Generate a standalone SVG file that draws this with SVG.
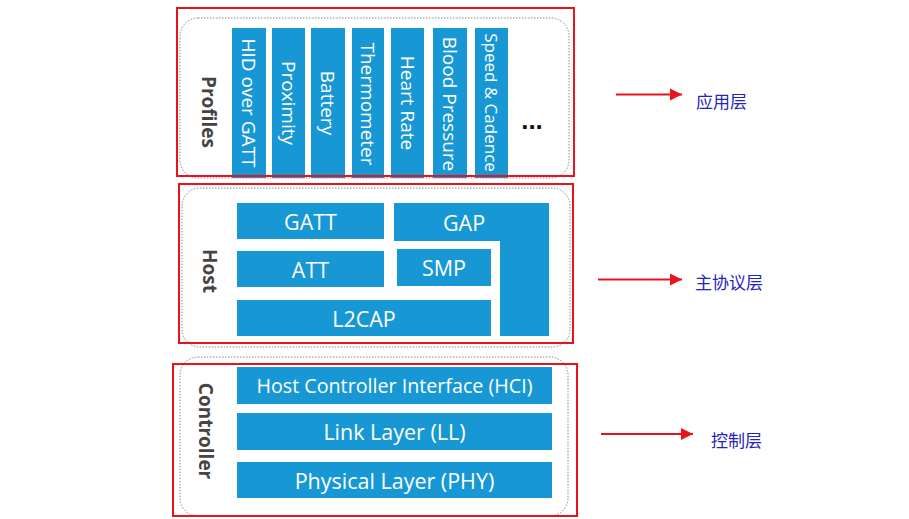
<svg xmlns="http://www.w3.org/2000/svg" width="909" height="519" viewBox="0 0 909 519">
<defs>
<style>
.blk{fill:#1798d5}
.red{fill:none;stroke:#e8141c;stroke-width:2}
.dot{fill:none;stroke:#888;stroke-width:1;stroke-dasharray:1.5 1.5}
.wt{fill:#fff;font-family:"Open Sans","Noto Sans",sans-serif;font-size:21.5px;text-anchor:middle;dominant-baseline:central}
.vt{fill:#fff;font-family:"Open Sans","Noto Sans",sans-serif;font-size:19px;text-anchor:middle;dominant-baseline:central}
.lbl{fill:#444;font-family:"Open Sans","Noto Sans",sans-serif;font-size:19px;font-weight:bold;text-anchor:middle;dominant-baseline:central}
.cn{fill:#2424b8;font-family:"Noto Sans CJK SC",sans-serif;font-size:17px;dominant-baseline:central}
.arr{stroke:#e8141c;stroke-width:2;fill:none}
</style>
<marker id="ah" viewBox="0 0 10 10" refX="10" refY="5" markerWidth="12" markerHeight="14" markerUnits="userSpaceOnUse" orient="auto">
<path d="M0,0 L10,5 L0,10 Z" fill="#e8141c"/>
</marker>
</defs>
<rect width="909" height="519" fill="#fff"/>

<g id="profiles">
<rect class="dot" x="180" y="18" width="389" height="160" rx="18"/>
<text class="lbl" transform="translate(209,112) rotate(90)">Profiles</text>
<g id="p-hid"><rect class="blk" x="232" y="28" width="34" height="150"/><text class="vt" transform="translate(249,103) rotate(90)">HID over GATT</text></g>
<g id="p-prox"><rect class="blk" x="272" y="28" width="33" height="150"/><text class="vt" transform="translate(288.5,103) rotate(90)">Proximity</text></g>
<g id="p-bat"><rect class="blk" x="311" y="28" width="34" height="150"/><text class="vt" transform="translate(328,103) rotate(90)">Battery</text></g>
<g id="p-therm"><rect class="blk" x="352" y="28" width="32" height="150"/><text class="vt" transform="translate(368,104) rotate(90)">Thermometer</text></g>
<g id="p-hr"><rect class="blk" x="391" y="28" width="33" height="150"/><text class="vt" transform="translate(407.5,103) rotate(90)">Heart Rate</text></g>
<g id="p-bp"><rect class="blk" x="433" y="28" width="34" height="150"/><text class="vt" transform="translate(450,104) rotate(90)">Blood Pressure</text></g>
<g id="p-sc"><rect class="blk" x="475" y="28" width="33" height="150"/><text class="vt" transform="translate(491.5,102.5) rotate(90)" style="font-size:17px">Speed &amp; Cadence</text></g>
<text x="532" y="129" font-family="Liberation Sans,sans-serif" font-size="26" font-weight="bold" fill="#111" text-anchor="middle">...</text>
<rect class="red" x="177" y="8" width="397" height="168"/>
</g>

<g id="host">
<rect class="dot" x="182" y="188" width="388" height="159" rx="18"/>
<text class="lbl" transform="translate(210,271) rotate(90)">Host</text>
<g id="gatt"><rect class="blk" x="237" y="203" width="147" height="36"/><text class="wt" x="310.5" y="221">GATT</text></g>
<g id="gap"><path class="blk" d="M394,203 H549 V336 H500 V241 H394 Z"/><text class="wt" x="464" y="222">GAP</text></g>
<g id="att"><rect class="blk" x="237" y="251" width="147" height="36"/><text class="wt" x="310.5" y="269">ATT</text></g>
<g id="smp"><rect class="blk" x="397" y="249" width="94" height="37"/><text class="wt" x="444" y="267.5">SMP</text></g>
<g id="l2cap"><rect class="blk" x="237" y="300" width="254" height="36"/><text class="wt" x="364" y="318">L2CAP</text></g>
<rect class="red" x="179" y="184" width="394" height="159"/>
</g>

<g id="controller">
<rect class="dot" x="180" y="357" width="388" height="159" rx="18"/>
<text class="lbl" transform="translate(206,431) rotate(90)">Controller</text>
<g id="hci"><rect class="blk" x="237" y="367" width="315" height="37"/><text class="wt" x="394.5" y="385.5" style="font-size:19.7px">Host Controller Interface (HCI)</text></g>
<g id="ll"><rect class="blk" x="237" y="413" width="315" height="37"/><text class="wt" x="394.5" y="431.5">Link Layer (LL)</text></g>
<g id="phy"><rect class="blk" x="237" y="462" width="315" height="36"/><text class="wt" x="394.5" y="480">Physical Layer (PHY)</text></g>
<rect class="red" x="173" y="364" width="404" height="152"/>
</g>

<g id="connectors">
<line class="arr" x1="616" y1="94.5" x2="682" y2="94.5" marker-end="url(#ah)"/>
<line class="arr" x1="598" y1="279.5" x2="682" y2="279.5" marker-end="url(#ah)"/>
<line class="arr" x1="601" y1="434" x2="693" y2="434" marker-end="url(#ah)"/>
</g>

<g id="labels">
<text class="cn" x="696" y="100">应用层</text>
<text class="cn" x="695" y="281">主协议层</text>
<text class="cn" x="711" y="439">控制层</text>
</g>
</svg>
